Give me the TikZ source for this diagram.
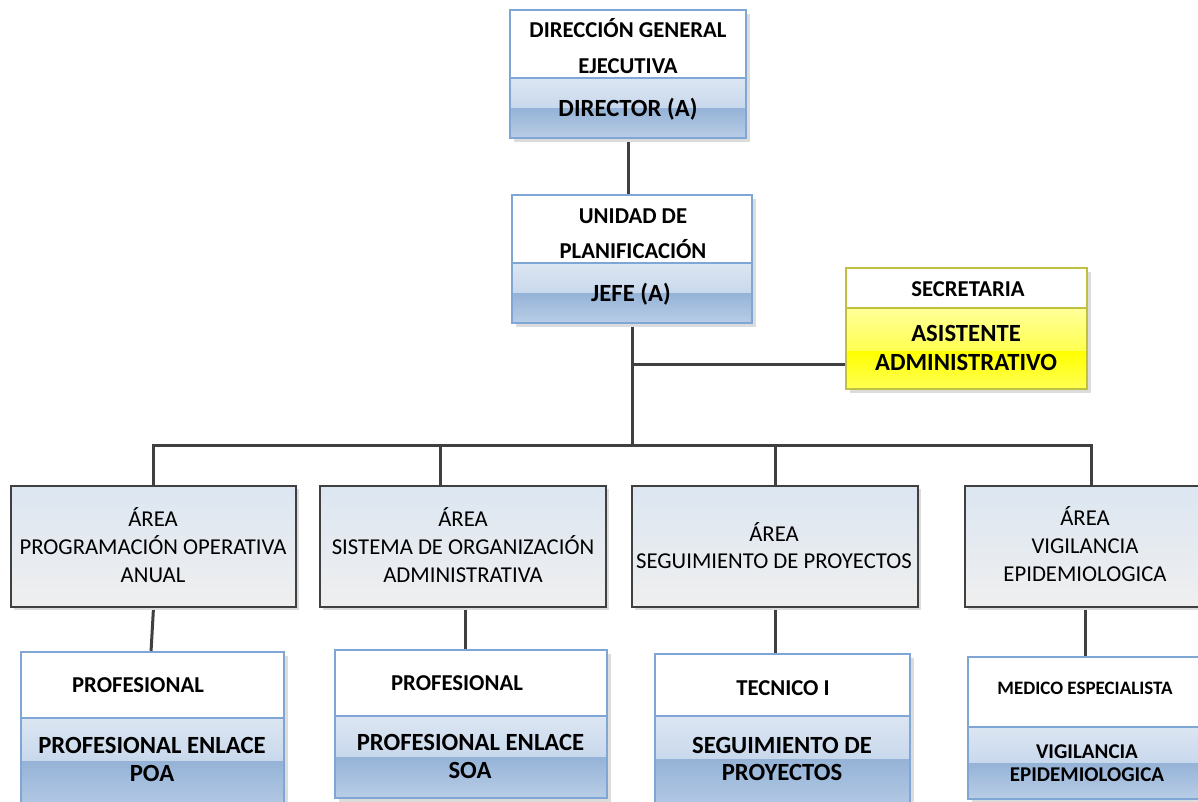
\documentclass[tikz,border=0pt]{standalone}
\usepackage{fontspec}
\setmainfont{Carlito}
\usetikzlibrary{fit}

\pgfdeclarelayer{back}
\pgfsetlayers{back,main}

\definecolor{linegray}{HTML}{404040}
\definecolor{shadowgray}{HTML}{DCDCDC}
\definecolor{cardedge}{HTML}{7FA6D4}
\definecolor{bAtop}{HTML}{DCE6F2}
\definecolor{bAbot}{HTML}{C8D8EC}
\definecolor{bBtop}{HTML}{95B3D7}
\definecolor{bBbot}{HTML}{B9CDE6}
\definecolor{yedge}{HTML}{BFBF40}
\definecolor{yAtop}{HTML}{FFFF99}
\definecolor{yAbot}{HTML}{FFFF50}
\definecolor{yBtop}{HTML}{FFFF00}
\definecolor{yBbot}{HTML}{FFFF55}
\definecolor{areatop}{HTML}{DCE6F1}
\definecolor{areabot}{HTML}{EFEFEF}

\tikzset{
  conn/.style={draw=linegray, line width=3pt},
  hb/.style={font=\bfseries\fontsize{22.7}{26}\selectfont, inner sep=0pt, anchor=base},
  lb/.style={font=\bfseries\fontsize{24.7}{28}\selectfont, inner sep=0pt, anchor=base},
  rg/.style={font=\fontsize{22.7}{26}\selectfont, inner sep=0pt, anchor=base},
  areabox/.style={inner sep=0pt, draw=linegray, line width=1.4pt,
    top color=areatop, bottom color=areabot},
}

% card: white header over a two-band glossy body
% #1 name, #2 x1, #3 y1, #4 x2, #5 header/body split, #6 gloss split, #7 y2, #8 palette, #9 edge
\newcommand\orgcard[9]{%
  \fill[shadowgray] (#2+4,#3+4) rectangle (#4+4,#7+4);
  \fill[white] (#2,#3) rectangle (#4,#5);
  \shade[top color=#8Atop, bottom color=#8Abot] (#2,#5) rectangle (#4,#6);
  \shade[top color=#8Btop, bottom color=#8Bbot] (#2,#6) rectangle (#4,#7);
  \draw[#9, line width=1.4pt] (#2,#5) -- (#4,#5);
  \node[fit={(#2,#3) (#4,#7)}, inner sep=0pt, draw=#9, line width=1.4pt] (#1) {};
}
% area box: #1 name, #2 x1, #3 y1, #4 x2, #5 y2
\newcommand\areacard[5]{%
  \fill[shadowgray] (#2+3,#3+3) rectangle (#4+3,#5+3);
  \node[areabox, fit={(#2,#3) (#4,#5)}] (#1) {};
}

\begin{document}
\begin{tikzpicture}[x=1pt, y=-1pt]
\useasboundingbox (0,0) rectangle (1198,801);
\clip (0,0) rectangle (1198,801);
\begin{pgfonlayer}{back}
  \fill[white] (0,0) rectangle (1198,801);
\end{pgfonlayer}

% top levels
\orgcard{dg}{510}{10}{746}{78}{108}{138}{b}{cardedge}
\orgcard{up}{512}{195}{752}{263}{293}{323}{b}{cardedge}
\orgcard{sec}{846}{268}{1087}{308}{351}{389}{y}{yedge}

\node[hb] (dg1) at (628,37.3) {DIRECCIÓN GENERAL};
\node[hb] (dg2) at (628,73.3) {EJECUTIVA};
\node[lb] (dg3) at (628,116.7) {DIRECTOR (A)};

\node[hb] (up1) at (633,223) {UNIDAD DE};
\node[hb] (up2) at (633,258) {PLANIFICACIÓN};
\node[lb] (up3) at (631,301.7) {JEFE (A)};

\node[hb] (sec1) at (968,296.7) {SECRETARIA};
\node[lb] (sec2) at (966,341.7) {ASISTENTE};
\node[lb] (sec3) at (966,370) {ADMINISTRATIVO};

% areas
\areacard{a1}{11}{486}{296}{607}
\areacard{a2}{320}{486}{606}{607}
\areacard{a3}{632}{486}{918}{607}
\areacard{a4}{965}{486}{1217}{607}

\node[rg] (a1t1) at (153,526) {ÁREA};
\node[rg] (a1t2) at (153,554) {PROGRAMACIÓN OPERATIVA};
\node[rg] (a1t3) at (153,582) {ANUAL};
\node[rg] (a2t1) at (463,526) {ÁREA};
\node[rg] (a2t2) at (463,554) {SISTEMA DE ORGANIZACIÓN};
\node[rg] (a2t3) at (463,582) {ADMINISTRATIVA};
\node[rg] (a3t1) at (774,541.5) {ÁREA};
\node[rg] (a3t2) at (774,568) {SEGUIMIENTO DE PROYECTOS};
\node[rg] (a4t1) at (1085,525) {ÁREA};
\node[rg] (a4t2) at (1085,553) {VIGILANCIA};
\node[rg] (a4t3) at (1085,581) {EPIDEMIOLOGICA};

% staff cards
\orgcard{b1}{21}{652}{284}{718}{761}{815}{b}{cardedge}
\orgcard{b2}{335}{650}{607}{716}{757}{798}{b}{cardedge}
\orgcard{b3}{655}{654}{910}{716}{759}{815}{b}{cardedge}
\orgcard{b4}{968}{657}{1230}{727}{763}{799}{b}{cardedge}

\node[hb] (b1t1) at (138,692.7) {PROFESIONAL};
\node[lb] (b1t2) at (152,753) {PROFESIONAL ENLACE};
\node[lb] (b1t3) at (152,781.7) {POA};
\node[hb] (b2t1) at (457,690) {PROFESIONAL};
\node[lb] (b2t2) at (470.5,750.7) {PROFESIONAL ENLACE};
\node[lb] (b2t3) at (470,778) {SOA};
\node[hb] (b3t1) at (783,695) {TECNICO I};
\node[lb] (b3t2) at (782,753) {SEGUIMIENTO DE};
\node[lb] (b3t3) at (782,780) {PROYECTOS};
\node[hb, font=\bfseries\fontsize{19}{22}\selectfont] (b4t1) at (1085,694) {MEDICO ESPECIALISTA};
\node[lb, font=\bfseries\fontsize{21}{24}\selectfont] (b4t2) at (1087,758.3) {VIGILANCIA};
\node[lb, font=\bfseries\fontsize{21}{24}\selectfont] (b4t3) at (1087,781.7) {EPIDEMIOLOGICA};

% connection points on the trunk
\coordinate (jsec) at (632,364);
\coordinate (jbus) at (632,445);
\coordinate (a2in) at (440,486);
\coordinate (a4in) at (1091,486);
\coordinate (a2out) at (465,607);
\coordinate (a4out) at (1085,607);
\coordinate (b1in) at (151,652);

% connectors, kept behind the boxes
\begin{pgfonlayer}{back}
  \draw[conn] (dg.south) -- (dg.south |- up.north);
  \draw[conn] (up.south) -- (jbus);
  \draw[conn] (jsec) -- (sec.west |- jsec);
  \draw[conn] (a1.north) |- (a4in |- jbus) -- (a4in);
  \draw[conn] (a2in) -- (a2in |- jbus);
  \draw[conn] (a3.north) -- (a3.north |- jbus);
  \draw[conn] (a1.south) -- (b1in);
  \draw[conn] (a2out) -- (a2out |- b2.north);
  \draw[conn] (a3.south) -- (a3.south |- b3.north);
  \draw[conn] (a4out) -- (a4out |- b4.north);
\end{pgfonlayer}
\end{tikzpicture}
\end{document}
